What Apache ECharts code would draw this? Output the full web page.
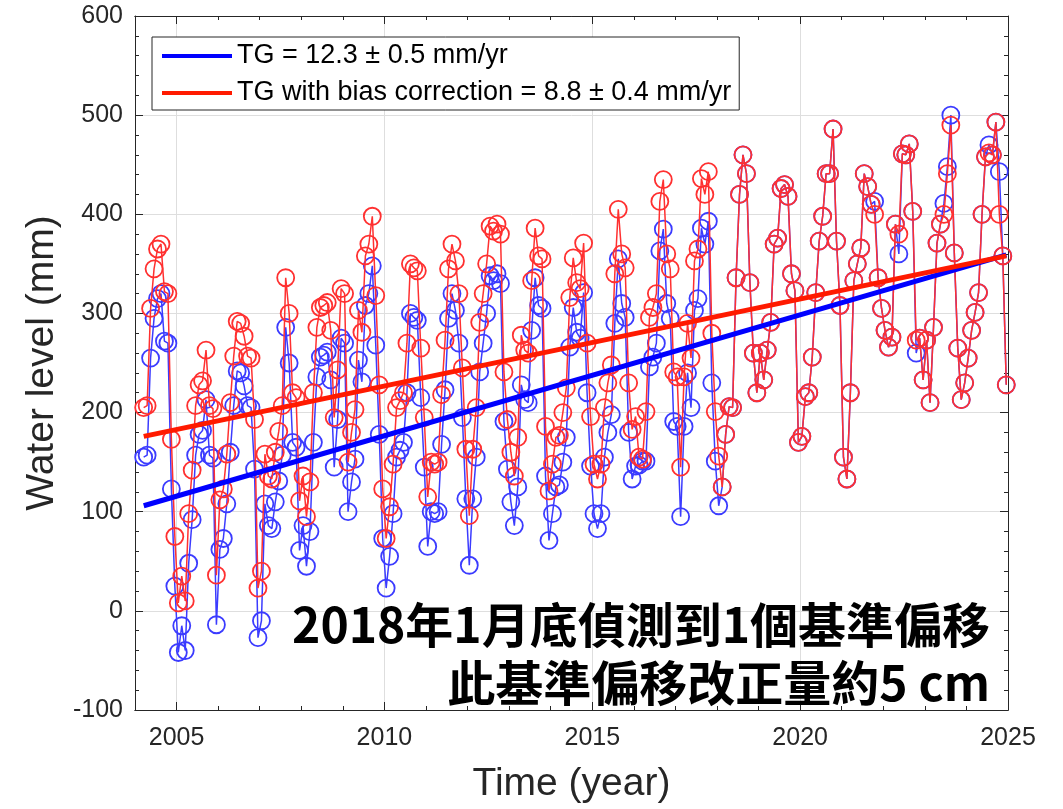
<!DOCTYPE html>
<html>
<head>
<meta charset="utf-8">
<script src="https://cdn.jsdelivr.net/npm/echarts@6/dist/echarts.min.js"></script>
<style>
html,body{margin:0;padding:0;background:#fff;}
#chart{width:1063px;height:809px;}
</style>
</head>
<body>
<div id="chart"></div>
<script>
// Monthly series, first value = March 2004, last value = December 2024
const startYear = 2004;
const startMonth = 3;

// TG with bias correction (mm)
const redValues = [
  205, 207, 305, 345, 365, 370, 322, 320, 173, 75,
  8, 35, 10, 98, 142, 207, 228, 232, 263, 207, 204, 36,
  112, 123, 158, 210, 257, 292, 290, 277, 257, 255, 193, 23,
  40, 158, 136, 133, 160, 181, 207, 336, 300, 220, 215, 111,
  136, 95, 130, 220, 286, 306, 308, 311, 283, 195, 243, 325,
  320, 150, 180, 203, 303, 281, 358, 370, 398, 318, 228, 123,
  73, 105, 148, 205, 212, 220, 270, 350, 346, 343, 265, 195,
  115, 150, 148, 150, 218, 273, 345, 370, 353, 320, 245, 163,
  96, 163, 205, 291, 320, 350, 388, 383, 390, 380, 241, 193,
  160, 136, 175, 278, 263, 260, 333, 386, 358, 355, 186, 121,
  148, 175, 177, 200, 225, 316, 356, 331, 325, 371, 270, 196,
  148, 133, 148, 205, 230, 248, 340, 405, 360, 346, 230, 183,
  196, 155, 153, 201, 296, 306, 320, 413, 435, 360, 345, 241,
  236, 145, 236, 290, 255, 353, 365, 436, 420, 443, 280, 201,
  156, 125, 178, 206, 205, 336, 420, 460, 441, 331, 260, 220,
  260, 233, 263, 291, 370, 376, 426, 430, 418, 340, 323, 170,
  176, 216, 220, 256, 321, 373, 398, 441, 441, 486, 373, 308,
  155, 133, 220, 333, 350, 366, 441, 428, 410, 400, 336, 305,
  283, 266, 276, 390, 380, 461, 460, 471, 403, 273, 275, 233,
  273, 210, 286, 371, 390, 400, 441, 490, 361, 265, 213, 230,
  255, 283, 301, 321, 400, 458, 462, 460, 493, 400, 358, 228
];

// TG raw (mm)
const blueValues = [
  155, 157, 255, 295, 315, 320, 272, 270, 123, 25,
  -42, -15, -40, 48, 92, 157, 178, 182, 213, 157, 154, -14,
  62, 73, 108, 160, 207, 242, 240, 227, 207, 205, 143, -27,
  -10, 108, 86, 83, 110, 131, 157, 286, 250, 170, 165, 61,
  86, 45, 80, 170, 236, 256, 258, 261, 233, 145, 193, 275,
  270, 100, 130, 153, 253, 231, 308, 320, 348, 268, 178, 73,
  23, 55, 98, 155, 162, 170, 220, 300, 296, 293, 215, 145,
  65, 100, 98, 100, 168, 223, 295, 320, 303, 270, 195, 113,
  46, 113, 155, 241, 270, 300, 338, 333, 340, 330, 191, 143,
  110, 86, 125, 228, 213, 210, 283, 336, 308, 305, 136, 71,
  98, 125, 127, 150, 175, 266, 306, 281, 275, 321, 220, 146,
  98, 83, 98, 155, 180, 198, 290, 355, 310, 296, 180, 133,
  146, 147, 151, 151, 246, 256, 270, 363, 385, 310, 295, 191,
  186, 95, 186, 240, 205, 303, 315, 386, 370, 393, 230, 151,
  106, 125, 178, 206, 205, 336, 420, 460, 441, 331, 260, 220,
  260, 233, 263, 291, 370, 376, 426, 430, 418, 340, 323, 170,
  176, 216, 220, 256, 321, 373, 398, 441, 441, 486, 373, 308,
  155, 133, 220, 333, 350, 366, 441, 428, 410, 413, 336, 305,
  283, 266, 276, 390, 360, 461, 460, 471, 403, 260, 275, 233,
  273, 210, 286, 371, 390, 411, 448, 500, 361, 265, 213, 230,
  255, 283, 301, 321, 400, 458, 470, 460, 493, 443, 358, 228
];

// Linear trends (end points, year / mm)
const trendYears = [2004.21, 2024.96];
const blueTrend = [106, 359];
const redTrend = [176, 358];

const xTickYears = [2005, 2010, 2015, 2020, 2025];
const legendNames = ['TG = 12.3 ± 0.5 mm/yr', 'TG with bias correction = 8.8 ± 0.4 mm/yr'];
const annotationLines = ['2018年1月底偵測到1個基準偏移', '此基準偏移改正量約5 cm'];

function monthTime(i) {
  const m = startMonth - 1 + i;
  const y = startYear + Math.floor(m / 12);
  const mm = m % 12;
  return y + (mm + 0.5) / 12;
}
const blueData = blueValues.map((v, i) => [monthTime(i), v]);
const redData = redValues.map((v, i) => [monthTime(i), v]);
const blueTrendData = trendYears.map((t, i) => [t, blueTrend[i]]);
const redTrendData = trendYears.map((t, i) => [t, redTrend[i]]);

const FONT = '"Liberation Sans", Arial, sans-serif';
const AX = '#262626';
const GRID = '#dedede';

function minorX(pos) {
  return {
    type: 'value', position: pos, min: 2004, max: 2025, interval: 1,
    axisLine: { show: true, onZero: false, lineStyle: { color: AX, width: 1 } },
    axisTick: { show: true, inside: true, length: 4, lineStyle: { color: AX } },
    axisLabel: { show: false },
    splitLine: { show: false }
  };
}
function majorX(pos, withLabels) {
  const a = {
    type: 'value', position: pos, min: 2004, max: 2025,
    axisLine: { show: true, onZero: false, lineStyle: { color: AX, width: 1 } },
    axisTick: { show: true, inside: true, length: 8, customValues: xTickYears, lineStyle: { color: AX } },
    axisLabel: {
      show: withLabels, customValues: xTickYears, fontSize: 25, color: AX, fontFamily: FONT, margin: 16,
      formatter: function (v) { return String(Math.round(v)); }
    },
    splitLine: { show: withLabels, lineStyle: { color: GRID, width: 1 } }
  };
  if (withLabels) {
    a.name = 'Time (year)';
    a.nameLocation = 'middle';
    a.nameGap = 55;
    a.nameTextStyle = { fontSize: 39, color: AX, fontFamily: FONT };
  }
  return a;
}

const chart = echarts.init(document.getElementById('chart'), null, { renderer: 'canvas' });
chart.setOption({
  animation: false,
  backgroundColor: '#ffffff',
  textStyle: { fontFamily: FONT },
  grid: { left: 135, right: 55, top: 16, bottom: 96, containLabel: false },
  legend: {
    left: 152, top: 37, orient: 'vertical',
    data: [{ name: legendNames[0], icon: 'rect' }, { name: legendNames[1], icon: 'rect' }],
    itemWidth: 70, itemHeight: 4, itemGap: 9,
    padding: [5, 8, 3, 10],
    backgroundColor: '#ffffff', borderColor: AX, borderWidth: 1,
    textStyle: { fontSize: 27, color: '#000', fontFamily: FONT, lineHeight: 28 },
    selectedMode: false
  },
  xAxis: [majorX('bottom', true), minorX('bottom'), minorX('top'), majorX('top', false)],
  yAxis: [
    {
      type: 'value', position: 'left', min: -100, max: 600, interval: 100,
      axisLine: { show: true, onZero: false, lineStyle: { color: AX, width: 1 } },
      axisTick: { show: true, inside: true, length: 8, lineStyle: { color: AX } },
      minorTick: { show: true, splitNumber: 5, length: 4, lineStyle: { color: AX } },
      axisLabel: { fontSize: 25, color: AX, fontFamily: FONT, margin: 12 },
      splitLine: { show: true, lineStyle: { color: GRID, width: 1 } },
      name: 'Water level (mm)', nameLocation: 'middle', nameGap: 73,
      nameTextStyle: { fontSize: 39, color: AX, fontFamily: FONT }
    },
    {
      type: 'value', position: 'right', min: -100, max: 600, interval: 100,
      axisLine: { show: true, onZero: false, lineStyle: { color: AX, width: 1 } },
      axisTick: { show: true, inside: true, length: 8, lineStyle: { color: AX } },
      minorTick: { show: true, splitNumber: 5, length: 4, lineStyle: { color: AX } },
      axisLabel: { show: false },
      splitLine: { show: false }
    }
  ],
  series: [
    {
      name: 'TG data', type: 'line', xAxisIndex: 0, yAxisIndex: 0, z: 2,
      data: blueData, symbol: 'circle', symbolSize: 17, showAllSymbol: true,
      lineStyle: { color: '#3b3bff', width: 1.5 },
      itemStyle: { color: 'rgba(0,0,0,0)', borderColor: '#3b3bff', borderWidth: 1.8 },
      emphasis: { disabled: true }, silent: true
    },
    {
      name: 'TG corrected data', type: 'line', xAxisIndex: 0, yAxisIndex: 0, z: 3,
      data: redData, symbol: 'circle', symbolSize: 17, showAllSymbol: true,
      lineStyle: { color: '#ff3030', width: 1.5 },
      itemStyle: { color: 'rgba(0,0,0,0)', borderColor: '#ff3030', borderWidth: 1.8 },
      emphasis: { disabled: true }, silent: true
    },
    {
      name: legendNames[0], type: 'line', xAxisIndex: 0, yAxisIndex: 0, z: 4,
      data: blueTrendData, symbol: 'none', color: '#0000ff',
      lineStyle: { color: '#0000ff', width: 5 }, silent: true
    },
    {
      name: legendNames[1], type: 'line', xAxisIndex: 0, yAxisIndex: 0, z: 5,
      data: redTrendData, symbol: 'none', color: '#ff1a00',
      lineStyle: { color: '#ff1a00', width: 5 }, silent: true
    }
  ],
  graphic: [
    {
      type: 'text', x: 990, y: 625, z: 100,
      style: {
        text: annotationLines[0], align: 'right', verticalAlign: 'middle',
        font: 'bold 48px "Noto Sans CJK TC", "Noto Sans CJK SC", sans-serif', fill: '#000'
      }
    },
    {
      type: 'text', x: 990, y: 683, z: 100,
      style: {
        text: annotationLines[1], align: 'right', verticalAlign: 'middle',
        font: 'bold 48px "Noto Sans CJK TC", "Noto Sans CJK SC", sans-serif', fill: '#000'
      }
    }
  ]
});
</script>
</body>
</html>
